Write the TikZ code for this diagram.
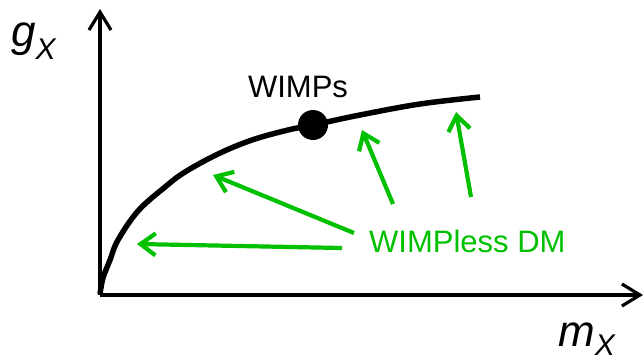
\documentclass[tikz,border=0pt]{standalone}
\usepackage{fontspec}
\setmainfont{Liberation Sans}
\usetikzlibrary{arrows.meta}
\definecolor{dmgreen}{RGB}{0,192,0}
\begin{document}
\begin{tikzpicture}[x=1pt,y=-1pt,
  axis/.style={line width=3.2pt, -{Straight Barb[length=18pt,width=22pt]}},
  curveline/.style={line width=5.5pt},
  greenarrow/.style={dmgreen, line width=4.2pt, -{Straight Barb[length=15pt,width=22pt]}},
  biglabel/.style={inner sep=0pt, font=\fontsize{44}{48}\selectfont\itshape},
  txt/.style={inner sep=0pt, font=\fontsize{31}{34}\selectfont}]
\useasboundingbox (0,0) rectangle (644,361);
\coordinate (o) at (100,295);
\coordinate (ytop) at (100,9);
\coordinate (xend) at (643,295);
\draw[axis] (o) -- (ytop);
\draw[axis] (o) -- (xend);
\node[biglabel, anchor=base west] (gx) at (11,47) {g\raisebox{-13pt}{\fontsize{30}{32}\selectfont X}};
\node[biglabel, anchor=base west] (mx) at (558,346) {m\raisebox{-9pt}{\fontsize{30}{32}\selectfont X}};
\draw[curveline] plot[smooth, tension=0.6] coordinates {(100,294) (103,278) (110,260) (118,240) (138,211) (165,187) (185,172) (218,154) (252,140) (288,130) (313,125) (360,115) (420,104) (480,97)};
\node[circle, fill=black, minimum size=30pt, inner sep=0pt] (dot) at (313,125) {};
\node[txt, anchor=base] (wimps) at (298,97) {WIMPs};
\node[txt, anchor=base west, text=dmgreen] (wl) at (369,252) {WIMPless DM};
\coordinate (s1) at (342,248); \coordinate (t1) at (137,244);
\coordinate (s2) at (354,233); \coordinate (t2) at (213,175);
\coordinate (s3) at (393,204); \coordinate (t3) at (362,130);
\coordinate (s4) at (471,197); \coordinate (t4) at (456,112);
\draw[greenarrow] (s1) -- (t1);
\draw[greenarrow] (s2) -- (t2);
\draw[greenarrow] (s3) -- (t3);
\draw[greenarrow] (s4) -- (t4);
\end{tikzpicture}
\end{document}
